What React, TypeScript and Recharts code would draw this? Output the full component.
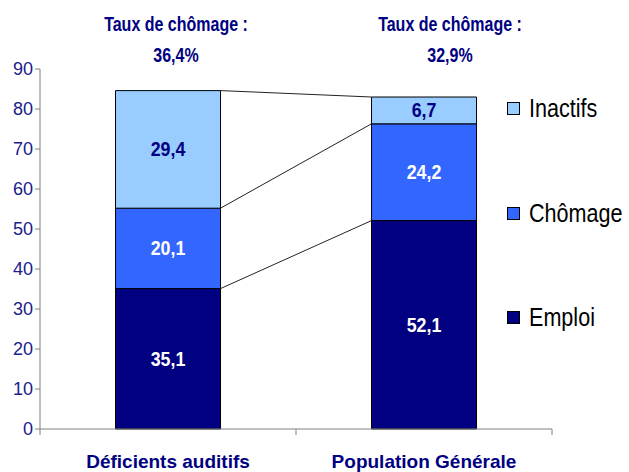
import { Bar, BarChart, LabelList, ReferenceLine, XAxis, YAxis } from "recharts";

const categories = ["Déficients auditifs", "Population Générale"];
const emploi = [35.1, 52.1];
const chomage = [20.1, 24.2];
const inactifs = [29.4, 6.7];
const tauxChomage = ["36,4%", "32,9%"];
const yTicks = [0, 10, 20, 30, 40, 50, 60, 70, 80, 90];

const FONT = "'Liberation Sans', Arial, sans-serif";
const NAVY = "#000080";

const data = categories.map((name, i) => ({
  name,
  emploi: emploi[i],
  chomage: chomage[i],
  inactifs: inactifs[i],
}));

// tops of each stacked segment, used for the connector lines
const tops = [
  emploi,
  emploi.map((v, i) => v + chomage[i]),
  emploi.map((v, i) => v + chomage[i] + inactifs[i]),
];

// hidden 0..1 axis spanning the plot: category i occupies [i/2, (i+1)/2]
const BAR_FRAC = 0.41;
const x1 = (0.5 + BAR_FRAC / 2) / categories.length;
const x2 = (1.5 - BAR_FRAC / 2) / categories.length;

const fmt = (v: any) => Number(v).toFixed(1).replace(".", ",");

// bold, slightly condensed value label centred in its segment
const segLabel = (color: string) => (props: any) => {
  const { x, y, width, height, value } = props;
  const cx = Number(x) + Number(width) / 2;
  const cy = Number(y) + Number(height) / 2;
  return (
    <text
      transform={`translate(${cx},${cy}) scale(0.89,1)`}
      textAnchor="middle"
      dominantBaseline="central"
      fill={color}
      fontSize={20}
      fontWeight="bold"
      fontFamily={FONT}
    >
      {fmt(value)}
    </text>
  );
};

const legendItems = [
  { label: "Inactifs", color: "#99CCFF", top: 108 },
  { label: "Chômage", color: "#3366FF", top: 213 },
  { label: "Emploi", color: NAVY, top: 317 },
];

const annotations = [176, 450];

export default function App() {
  return (
    <div style={{ position: "absolute", left: 0, top: 0, width: 629, height: 472, background: "#fff" }}>
      <BarChart
        width={629}
        height={472}
        data={data}
        barCategoryGap="29.5%"
        margin={{ top: 69, right: 77, bottom: 0, left: 4 }}
      >
        <YAxis
          type="number"
          domain={[0, 90]}
          ticks={yTicks}
          interval={0}
          width={36}
          axisLine={{ stroke: "#808080" }}
          tickLine={{ stroke: "#808080" }}
          tickSize={5}
          tick={{ fill: "#20208C", fontSize: 18, fontFamily: FONT }}
        />
        <XAxis
          xAxisId="edges"
          type="number"
          domain={[0, 1]}
          allowDataOverflow
          ticks={[0, 0.5, 1]}
          interval={0}
          height={8}
          tickSize={6}
          axisLine={{ stroke: "#808080" }}
          tickLine={{ stroke: "#808080" }}
          tick={() => <g />}
        />
        <XAxis
          xAxisId="names"
          dataKey="name"
          height={35}
          axisLine={false}
          tickLine={false}
          tickMargin={12}
          tick={{ fill: NAVY, fontSize: 19, fontWeight: "bold", fontFamily: FONT }}
        />
        <Bar dataKey="emploi" stackId="a" xAxisId="names" fill={NAVY} stroke="#000" strokeWidth={1} isAnimationActive={false}>
          <LabelList dataKey="emploi" content={segLabel("#fff")} />
        </Bar>
        <Bar dataKey="chomage" stackId="a" xAxisId="names" fill="#3366FF" stroke="#000" strokeWidth={1} isAnimationActive={false}>
          <LabelList dataKey="chomage" content={segLabel("#fff")} />
        </Bar>
        <Bar dataKey="inactifs" stackId="a" xAxisId="names" fill="#99CCFF" stroke="#000" strokeWidth={1} isAnimationActive={false}>
          <LabelList dataKey="inactifs" content={segLabel(NAVY)} />
        </Bar>
        {tops.map((t, k) => (
          <ReferenceLine
            key={k}
            xAxisId="edges"
            ifOverflow="visible"
            segment={[
              { x: x1, y: t[0] },
              { x: x2, y: t[1] },
            ]}
            stroke="#222"
            strokeWidth={1}
          />
        ))}
      </BarChart>
      {annotations.map((cx, i) => (
        <div
          key={i}
          style={{
            position: "absolute",
            left: cx - 100,
            top: 9,
            width: 200,
            textAlign: "center",
            color: NAVY,
            fontFamily: FONT,
            fontWeight: "bold",
            fontSize: 20,
            lineHeight: "31px",
            transform: "scaleX(0.8)",
          }}
        >
          <div>Taux de chômage :</div>
          <div>{tauxChomage[i]}</div>
        </div>
      ))}
      {legendItems.map((it) => (
        <div
          key={it.label}
          style={{
            position: "absolute",
            left: 507,
            top: it.top - 16,
            height: 32,
            display: "flex",
            alignItems: "center",
            fontFamily: FONT,
            fontSize: 26,
            color: "#000",
            whiteSpace: "nowrap",
          }}
        >
          <span
            style={{
              display: "inline-block",
              width: 11,
              height: 11,
              background: it.color,
              border: "1px solid #000",
              marginRight: 9,
            }}
          />
          <span style={{ display: "inline-block", transform: "scaleX(0.83)", transformOrigin: "left center" }}>
            {it.label}
          </span>
        </div>
      ))}
    </div>
  );
}
